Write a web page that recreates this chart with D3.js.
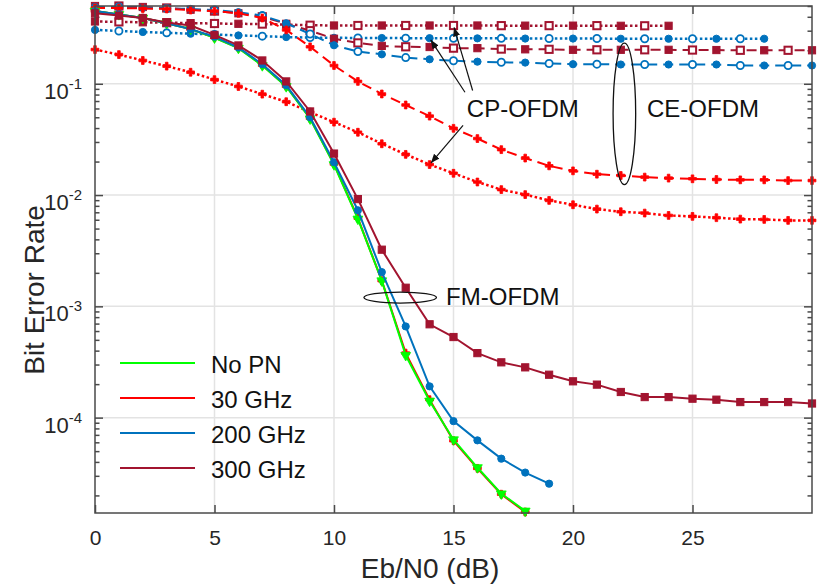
<!DOCTYPE html>
<html>
<head>
<meta charset="utf-8">
<title>BER vs Eb/N0</title>
<script src="https://cdn.jsdelivr.net/npm/d3@7"></script>
<style>
  body { margin: 0; background: #fff; }
  svg { font-family: "Liberation Sans", Arial, sans-serif; }
</style>
</head>
<body>
<script>
// Eb/N0 values (dB)
const ebn0 = [0,1,2,3,4,5,6,7,8,9,10,11,12,13,14,15,16,17,18,19,20,21,22,23,24,25,26,27,28,29,30];

// FM-OFDM (solid)
const fmNoPN = [0.45,0.42,0.39,0.35,0.31,0.259,0.209,0.146,0.0946,0.0485,0.0188,0.0061,0.0017,3.63e-4,1.41e-4,6.34e-5,3.56e-5,2.07e-5,1.45e-5];
const fm30 = [0.45,0.42,0.39,0.35,0.31,0.26,0.21,0.147,0.095,0.049,0.019,0.0062,0.0017,3.8e-4,1.45e-4,6.2e-5,3.5e-5,2.05e-5,1.42e-5];
const fm200 = [0.45,0.42,0.39,0.35,0.31,0.265,0.212,0.15,0.097,0.05,0.0197,0.0073,0.00203,6.6e-4,1.91e-4,9.3e-5,6.25e-5,4.28e-5,3.21e-5,2.55e-5];
const fm300 = [0.43,0.41,0.39,0.356,0.334,0.275,0.221,0.162,0.105,0.0564,0.0236,0.0092,0.00323,0.00147,6.9e-4,5.3e-4,3.8e-4,3.14e-4,2.83e-4,2.43e-4,2.12e-4,1.98e-4,1.7e-4,1.53e-4,1.53e-4,1.48e-4,1.45e-4,1.38e-4,1.38e-4,1.38e-4,1.34e-4];

// CP-OFDM (dotted)
const cp30 = [0.203,0.183,0.162,0.144,0.127,0.109,0.0946,0.0807,0.069,0.0556,0.0452,0.0367,0.0289,0.0232,0.0188,0.0157,0.0131,0.0112,0.0101,0.00895,0.00818,0.00748,0.00708,0.00689,0.00656,0.00643,0.00626,0.00608,0.00604,0.00592,0.00592];
const cp200 = [0.305,0.298,0.292,0.287,0.282,0.277,0.272,0.268,0.263,0.26,0.259,0.258,0.258,0.257,0.257,0.256,0.256,0.256,0.255,0.255,0.255,0.255,0.254,0.254,0.254,0.254,0.254,0.254,0.254];
const cp300 = [0.363,0.36,0.357,0.354,0.351,0.348,0.346,0.344,0.34,0.336,0.334,0.334,0.334,0.334,0.334,0.334,0.334,0.333,0.333,0.333,0.333,0.333,0.332,0.332,0.332];

// CE-OFDM (dashed)
const ce30 = [0.48,0.48,0.475,0.47,0.46,0.45,0.43,0.39,0.305,0.215,0.146,0.105,0.081,0.0645,0.0512,0.0398,0.0322,0.0256,0.0215,0.0183,0.0165,0.0154,0.015,0.0145,0.0142,0.014,0.0138,0.0137,0.0137,0.0135,0.0135];
const ce200 = [0.49,0.49,0.48,0.475,0.47,0.46,0.44,0.41,0.35,0.28,0.222,0.195,0.184,0.172,0.166,0.161,0.158,0.156,0.155,0.152,0.15,0.15,0.149,0.149,0.149,0.149,0.149,0.146,0.146,0.146,0.146];
const ce300 = [0.5,0.5,0.49,0.48,0.463,0.45,0.43,0.4,0.346,0.3,0.254,0.233,0.219,0.215,0.214,0.209,0.209,0.205,0.204,0.204,0.202,0.202,0.202,0.202,0.202,0.201,0.201,0.2,0.2,0.2,0.2];

const legendNames = ["No PN", "30 GHz", "200 GHz", "300 GHz"];
const xTickValues = [0, 5, 10, 15, 20, 25];
const yDecades = [1e-1, 1e-2, 1e-3, 1e-4];
const yTickExp = ["-1", "-2", "-3", "-4"];

// colours
const cGreen = "#00ff00", cRed = "#ff0000", cBlue = "#0072bd", cDark = "#a2142f";
const legendColors = [cGreen, cRed, cBlue, cDark];

// drawing order: back to front
const series = [
  { v: cp300, color: cDark, dash: "2.5,2.5", mk: "square", w: 2.5 },
  { v: cp200, color: cBlue, dash: "2.5,2.5", mk: "circle", w: 2.5 },
  { v: cp30, color: cRed, dash: "2.5,2.5", mk: "cross", w: 2.5 },
  { v: ce300, color: cDark, dash: "10,6", mk: "square", w: 2 },
  { v: ce200, color: cBlue, dash: "10,6", mk: "circle", w: 2 },
  { v: ce30, color: cRed, dash: "10,6", mk: "cross", w: 2 },
  { v: fm30, color: cRed, dash: null, mk: "cross", w: 2 },
  { v: fmNoPN, color: cGreen, dash: null, mk: "tri", w: 2 },
  { v: fm200, color: cBlue, dash: null, mk: "circle", w: 2 },
  { v: fm300, color: cDark, dash: null, mk: "square", w: 2 }
];

const W = 819, H = 586;
const pLeft = 95, pRight = 812, pTop = 6, pBottom = 513;

const x = d3.scaleLinear().domain([0, 30]).range([pLeft, pRight]);
const y = d3.scaleLog().domain([1.39e-5, 0.5]).range([pBottom, pTop]);

const svg = d3.select("body").append("svg")
  .attr("width", W).attr("height", H);

const defs = svg.append("defs");
defs.append("clipPath").attr("id", "plotclip")
  .append("rect").attr("x", pLeft).attr("y", pTop)
  .attr("width", pRight - pLeft).attr("height", pBottom - pTop);

// grid
svg.append("g").selectAll("line").data(xTickValues.filter(d => d > 0)).join("line")
  .attr("x1", d => x(d)).attr("x2", d => x(d))
  .attr("y1", pTop).attr("y2", pBottom)
  .attr("stroke", "#e3e3e3").attr("stroke-width", 1.5);
svg.append("g").selectAll("line").data(yDecades).join("line")
  .attr("x1", pLeft).attr("x2", pRight)
  .attr("y1", d => y(d)).attr("y2", d => y(d))
  .attr("stroke", "#e3e3e3").attr("stroke-width", 1.5);

// axes (ticks inside)
const axisColor = "#4a4a4a";
const minor = y.ticks().filter(d => !yDecades.some(k => Math.abs(d - k) / k < 1e-6));

function styleAxis(g) {
  g.select(".domain").remove();
  g.selectAll("line").attr("stroke", axisColor).attr("stroke-width", 1.5);
}

svg.append("g").attr("transform", `translate(0,${pBottom})`)
  .call(d3.axisBottom(x).tickValues(xTickValues).tickSize(-8).tickPadding(17).tickFormat(d3.format("d")))
  .call(styleAxis)
  .call(g => g.selectAll("text").attr("font-size", 21).attr("fill", "#262626")
    .attr("font-family", "Liberation Sans, Arial, sans-serif"));

svg.append("g").attr("transform", `translate(0,${pTop})`)
  .call(d3.axisTop(x).tickValues(xTickValues).tickSize(-8).tickFormat(""))
  .call(styleAxis);

svg.append("g").attr("transform", `translate(${pLeft},0)`)
  .call(d3.axisLeft(y).tickValues(yDecades).tickSize(-8).tickFormat(""))
  .call(styleAxis);
svg.append("g").attr("transform", `translate(${pLeft},0)`)
  .call(d3.axisLeft(y).tickValues(minor).tickSize(-4.5).tickFormat(""))
  .call(styleAxis);
svg.append("g").attr("transform", `translate(${pRight},0)`)
  .call(d3.axisRight(y).tickValues(yDecades).tickSize(-8).tickFormat(""))
  .call(styleAxis);
svg.append("g").attr("transform", `translate(${pRight},0)`)
  .call(d3.axisRight(y).tickValues(minor).tickSize(-4.5).tickFormat(""))
  .call(styleAxis);

// y tick labels 10^k
const yLab = svg.append("g").selectAll("text").data(yDecades).join("text")
  .attr("x", 82).attr("y", d => y(d) + 15)
  .attr("text-anchor", "end").attr("fill", "#262626");
yLab.append("tspan").attr("font-size", 22).text("10");
yLab.append("tspan").attr("font-size", 15).attr("dy", -10)
  .text((d, i) => yTickExp[i]);

// series
const plot = svg.append("g");
const lineGen = d3.line().x((d, i) => x(ebn0[i])).y(d => y(d));

function marker(g, s) {
  const pts = g.selectAll("g.pt").data(s.v).join("g").attr("class", "pt")
    .attr("transform", (d, i) => `translate(${x(ebn0[i])},${y(d)})`);
  const hollow = (i) => s.dash && s.mk !== "cross" && i % 2 === 1;
  if (s.mk === "square") {
    pts.append("rect").attr("x", -3.6).attr("y", -3.6).attr("width", 7.2).attr("height", 7.2)
      .attr("fill", (d, i) => hollow(i) ? "#fff" : s.color)
      .attr("stroke", s.color).attr("stroke-width", (d, i) => hollow(i) ? 2 : 1);
  } else if (s.mk === "circle") {
    pts.append("circle").attr("r", 3.6)
      .attr("fill", (d, i) => hollow(i) ? "#fff" : s.color)
      .attr("stroke", s.color).attr("stroke-width", (d, i) => hollow(i) ? 1.8 : 1);
  } else if (s.mk === "cross") {
    pts.append("path").attr("d", d3.symbol(d3.symbolCross, 34)())
      .attr("fill", s.color).attr("stroke", s.color).attr("stroke-width", 0.8);
  } else {
    pts.append("path").attr("d", d3.symbol(d3.symbolTriangle, 42)())
      .attr("transform", "rotate(180)")
      .attr("fill", s.color).attr("stroke", s.color).attr("stroke-width", 0.8);
  }
}

series.forEach(s => {
  const g = plot.append("g");
  g.append("path").datum(s.v)
    .attr("d", lineGen)
    .attr("clip-path", "url(#plotclip)")
    .attr("fill", "none")
    .attr("stroke", s.color)
    .attr("stroke-width", s.w)
    .attr("stroke-dasharray", s.dash);
  marker(g, s);
});

// box
svg.append("rect").attr("x", pLeft).attr("y", pTop)
  .attr("width", pRight - pLeft).attr("height", pBottom - pTop)
  .attr("fill", "none").attr("stroke", axisColor).attr("stroke-width", 1.5);

// annotations
const ann = svg.append("g");
defs.append("marker").attr("id", "ah")
  .attr("viewBox", "0 0 10 10").attr("refX", 10).attr("refY", 5)
  .attr("markerWidth", 9).attr("markerHeight", 9).attr("markerUnits", "userSpaceOnUse")
  .attr("orient", "auto")
  .append("path").attr("d", "M0,1 L10,5 L0,9 Z").attr("fill", "#111");

const arrows = [
  { from: [15.4, 0.0422], to: [14, cp30[14]] },
  { from: [15.48, 0.084], to: [14, cp200[14]] },
  { from: [15.8, 0.087], to: [15, cp300[15]] }
];
arrows.forEach(a => {
  const x1 = x(a.from[0]), y1 = y(a.from[1]);
  let x2 = x(a.to[0]), y2 = y(a.to[1]);
  const dx = x2 - x1, dy = y2 - y1, L = Math.hypot(dx, dy);
  x2 = x2 - dx / L * 2; y2 = y2 - dy / L * 2;
  ann.append("line").attr("x1", x1).attr("y1", y1).attr("x2", x2).attr("y2", y2)
    .attr("stroke", "#111").attr("stroke-width", 1.2).attr("marker-end", "url(#ah)");
});

ann.append("ellipse").attr("cx", x(22.15)).attr("cy", y(0.0537))
  .attr("rx", 11.3).attr("ry", 70.7)
  .attr("fill", "none").attr("stroke", "#111").attr("stroke-width", 1.3);
ann.append("ellipse").attr("cx", x(12.77)).attr("cy", y(0.0012))
  .attr("rx", 36.3).attr("ry", 5.5)
  .attr("fill", "none").attr("stroke", "#111").attr("stroke-width", 1.3);

ann.append("text").attr("x", x(17.9)).attr("y", y(0.0498))
  .attr("text-anchor", "middle").attr("font-size", 24).attr("fill", "#111").text("CP-OFDM");
ann.append("text").attr("x", x(25.44)).attr("y", y(0.0498))
  .attr("text-anchor", "middle").attr("font-size", 24).attr("fill", "#111").text("CE-OFDM");
ann.append("text").attr("x", x(14.69)).attr("y", y(0.00102))
  .attr("text-anchor", "start").attr("font-size", 24).attr("fill", "#111").text("FM-OFDM");

// legend
const leg = svg.append("g");
legendNames.forEach((name, i) => {
  const ly = 363 + i * 35;
  leg.append("line").attr("x1", 120).attr("x2", 195).attr("y1", ly).attr("y2", ly)
    .attr("stroke", legendColors[i]).attr("stroke-width", 2);
  leg.append("text").attr("x", 211).attr("y", ly + 10)
    .attr("font-size", 24).attr("fill", "#111").text(name);
});

// axis labels
svg.append("text").attr("x", 430).attr("y", 578)
  .attr("text-anchor", "middle").attr("font-size", 28).attr("fill", "#262626")
  .text("Eb/N0 (dB)");
svg.append("text").attr("transform", "translate(44,290) rotate(-90)")
  .attr("text-anchor", "middle").attr("font-size", 28).attr("fill", "#262626")
  .text("Bit Error Rate");
</script>
</body>
</html>
